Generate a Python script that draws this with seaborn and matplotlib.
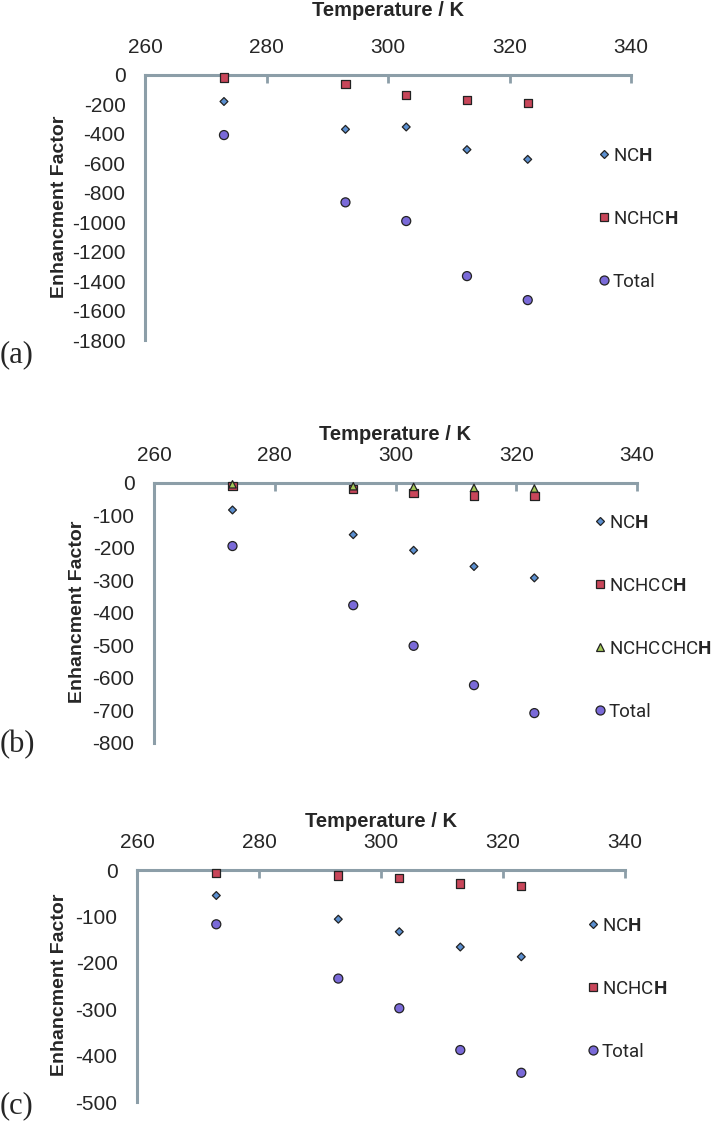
import seaborn as sns
import matplotlib.pyplot as plt
import pandas as pd
from matplotlib import font_manager

# temperatures (K), same for every panel
temps = [273, 293, 303, 313, 323]

# panel (a)
a_nch = [-180, -369, -353, -507, -573]
a_nchch = [-18, -61, -138, -170, -188]
a_total = [-408, -865, -992, -1366, -1529]

# panel (b)
b_nch = [-83, -159, -207, -257, -292]
b_nchcch = [-10, -18, -31, -38, -41]
b_nchcchch = [-4, -10, -12, -15, -17]
b_total = [-194, -376, -501, -622, -708]

# panel (c)
c_nch = [-55, -106, -133, -166, -187]
c_nchch = [-6, -12, -17, -29, -34]
c_total = [-117, -234, -298, -388, -437]

sns.set_style("white")
avail = {f.name for f in font_manager.fontManager.ttflist}
legend_font = "DejaVu Sans"
for cand in ["Liberation Sans Narrow", "Roboto", "Noto Sans", "Lato"]:
    if cand in avail:
        legend_font = cand
        break
plt.rcParams["font.family"] = ["Liberation Sans", "DejaVu Sans"]
plt.rcParams["axes.unicode_minus"] = False
plt.rcParams["mathtext.fontset"] = "custom"
plt.rcParams["mathtext.rm"] = legend_font
plt.rcParams["mathtext.bf"] = legend_font + ":bold"

spine_col = "#8c9ea8"
markers = {"NCH": "D", "NCHCH": "s", "NCHCCH": "s", "NCHCCHCH": "^", "Total": "o"}
colors = {"NCH": "#5b8fd0", "NCHCH": "#c8465a", "NCHCCH": "#c8465a",
          "NCHCCHCH": "#a4c858", "Total": "#7a6ad8"}
sizes = {"NCH": 16, "NCHCH": 36, "NCHCCH": 36, "NCHCCHCH": 28, "Total": 42}
pretty = {"NCH": r"NC$\mathbf{H}$", "NCHCH": r"NCHC$\mathbf{H}$",
          "NCHCCH": r"NCHCC$\mathbf{H}$", "NCHCCHCH": r"NCHCCHC$\mathbf{H}$",
          "Total": "Total"}

fig = plt.figure(figsize=(7.13, 11.24), dpi=100)
W, H = 713, 1124


def px_axes(left, top, right, bottom):
    return fig.add_axes([left / W, 1 - bottom / H, (right - left) / W, (bottom - top) / H])


def panel(ax, series, ymin, ystep, leg_x, leg_y, label, label_xy, ylab_xy, xlabpad):
    rows = []
    for name, vals in series:
        for t, v in zip(temps, vals):
            rows.append({"T": t, "EF": v, "series": name})
    df = pd.DataFrame(rows)
    order = [n for n, _ in series]
    sns.scatterplot(data=df, x="T", y="EF", hue="series", style="series", size="series",
                    hue_order=order, style_order=order, size_order=order,
                    palette=colors, markers=markers, sizes=sizes,
                    edgecolor="#222222", linewidth=0.9, ax=ax, clip_on=False, zorder=3)
    ax.set_xlim(260, 340)
    ax.set_ylim(ymin, 0)
    ax.set_xticks(range(260, 341, 20))
    ax.set_yticks(range(ymin, 1, ystep))
    ax.xaxis.set_ticks_position("top")
    ax.xaxis.set_label_position("top")
    for s in ["right", "bottom"]:
        ax.spines[s].set_visible(False)
    for s in ["left", "top"]:
        ax.spines[s].set_color(spine_col)
        ax.spines[s].set_linewidth(2.2)
    ax.tick_params(axis="x", direction="in", length=6, width=2, color=spine_col,
                   labelsize=15, pad=13)
    ax.tick_params(axis="y", direction="out", length=5, width=2, color=spine_col,
                   labelsize=15, pad=9)
    ax.set_xlabel("Temperature / K", fontsize=14.5, fontweight="bold", labelpad=xlabpad)
    ax.set_ylabel("Enhancment Factor", fontsize=14, fontweight="bold")
    ax.yaxis.set_label_coords(ylab_xy[0] / W, 1 - ylab_xy[1] / H, transform=fig.transFigure)
    leg = ax.legend_
    handles = leg.legend_handles
    leg.remove()
    fig.legend(handles, [pretty[n] for n in order], loc="center left",
               bbox_to_anchor=(leg_x / W, 1 - leg_y / H), frameon=False,
               prop={"family": legend_font, "size": 13.5}, labelspacing=2.4,
               handlelength=0.6, handletextpad=0.2, borderpad=0, borderaxespad=0)
    fig.text(label_xy[0] / W, 1 - label_xy[1] / H, label, fontsize=22,
             family=["Liberation Serif", "DejaVu Serif"], ha="left", va="center")


ax_a = px_axes(145, 75, 631, 340)
panel(ax_a, [("NCH", a_nch), ("NCHCH", a_nchch), ("Total", a_total)],
      -1800, 200, 598, 219, "(a)", (0, 355), (68, 207), 16)

ax_b = px_axes(154, 483, 637, 743)
panel(ax_b, [("NCH", b_nch), ("NCHCCH", b_nchcch), ("NCHCCHCH", b_nchcchch),
             ("Total", b_total)],
      -800, 100, 594, 617, "(b)", (0, 745), (86, 612), 4)

ax_c = px_axes(137, 870, 625, 1102)
panel(ax_c, [("NCH", c_nch), ("NCHCH", c_nchch), ("Total", c_total)],
      -500, 100, 587, 989, "(c)", (0, 1106), (68, 985), 4)

fig.savefig("out.png", dpi=100)
